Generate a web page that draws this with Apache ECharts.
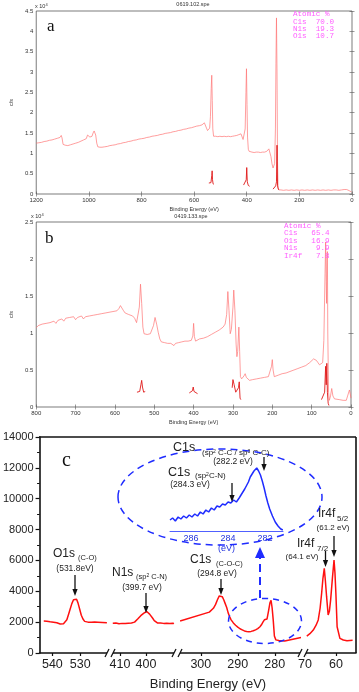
<!DOCTYPE html>
<html>
<head>
<meta charset="utf-8">
<script src="https://cdn.jsdelivr.net/npm/echarts@6/dist/echarts.min.js"></script>
<style>
html, body { margin: 0; padding: 0; background: #fff; }
#main { width: 359px; height: 692px; }
</style>
</head>
<body>
<div id="main"></div>
<script>
// ---- panel a : survey 0619.102.spe  [binding energy eV, counts x10^4]
var surveyA = [[1200,1.25],[1195,1.27],[1190,1.26],[1185,1.29],[1180,1.27],[1175,1.30],[1170,1.29],[1165,1.32],[1160,1.30],[1155,1.33],[1150,1.32],[1145,1.35],[1140,1.33],[1135,1.36],[1130,1.35],[1125,1.38],[1120,1.37],[1115,1.40],[1110,1.39],[1105,1.44],[1102,1.38],[1098,1.22],[1094,1.18],[1090,1.20],[1085,1.17],[1080,1.19],[1075,1.18],[1070,1.21],[1065,1.20],[1060,1.23],[1055,1.22],[1050,1.25],[1045,1.24],[1040,1.27],[1035,1.26],[1030,1.30],[1025,1.29],[1020,1.33],[1015,1.32],[1010,1.36],[1005,1.45],[1001,1.48],[996,1.40],[992,1.37],[988,1.42],[984,1.50],[980,1.55],[977,1.58],[974,1.45],[970,1.25],[966,1.16],[962,1.13],[958,1.15],[954,1.13],[950,1.15],[945,1.14],[940,1.16],[935,1.15],[930,1.17],[925,1.16],[920,1.19],[915,1.18],[910,1.20],[905,1.19],[900,1.21],[895,1.20],[890,1.23],[885,1.22],[880,1.24],[875,1.23],[870,1.26],[865,1.25],[860,1.27],[855,1.26],[850,1.29],[845,1.28],[840,1.30],[835,1.29],[830,1.32],[825,1.31],[820,1.33],[815,1.32],[810,1.35],[805,1.34],[800,1.36],[795,1.35],[790,1.37],[785,1.36],[780,1.39],[775,1.38],[770,1.40],[765,1.39],[760,1.42],[755,1.41],[750,1.43],[745,1.42],[740,1.44],[735,1.43],[730,1.46],[725,1.45],[720,1.47],[715,1.46],[710,1.49],[705,1.48],[700,1.50],[695,1.49],[690,1.51],[685,1.50],[680,1.53],[675,1.52],[670,1.54],[665,1.53],[660,1.56],[655,1.55],[650,1.57],[645,1.56],[640,1.59],[635,1.58],[630,1.60],[625,1.59],[620,1.62],[615,1.61],[610,1.63],[605,1.62],[600,1.65],[595,1.64],[590,1.67],[585,1.66],[580,1.68],[575,1.67],[570,1.70],[565,1.72],[561,1.75],[557,1.72],[553,1.62],[549,1.56],[545,1.54],[541,1.62],[538,1.90],[535,2.60],[533,2.92],[531,2.30],[529,1.60],[526,1.42],[522,1.40],[518,1.42],[514,1.39],[510,1.41],[506,1.40],[502,1.42],[498,1.39],[494,1.41],[490,1.40],[486,1.42],[482,1.40],[478,1.41],[474,1.39],[470,1.42],[466,1.40],[462,1.41],[458,1.39],[454,1.42],[450,1.41],[446,1.43],[442,1.42],[438,1.44],[434,1.43],[430,1.46],[426,1.45],[422,1.48],[418,1.44],[414,1.34],[410,1.32],[406,1.60],[403,2.50],[401,3.08],[399,2.20],[397,1.40],[394,1.10],[391,1.05],[388,1.03],[384,1.05],[380,1.03],[376,1.04],[372,1.02],[368,1.04],[364,1.03],[360,1.05],[356,1.03],[352,1.04],[348,1.02],[344,1.04],[340,1.03],[336,1.05],[332,1.03],[328,1.04],[324,1.05],[320,1.07],[316,1.11],[312,1.08],[308,0.92],[304,0.74],[300,0.64],[297,0.62],[294,0.75],[291,1.60],[289,3.20],[287,4.33],[285,3.00],[283,0.80],[281,0.16],[278,0.10],[274,0.09],[270,0.10],[260,0.09],[250,0.10],[240,0.09],[230,0.10],[220,0.09],[210,0.10],[200,0.09],[190,0.10],[180,0.09],[170,0.10],[160,0.09],[150,0.10],[140,0.09],[130,0.10],[120,0.09],[110,0.10],[100,0.09],[90,0.10],[80,0.09],[70,0.10],[60,0.10],[50,0.09],[40,0.10],[30,0.11],[25,0.12],[20,0.11],[15,0.10],[10,0.08],[5,0.06],[2,0.05]];
var hiresA_O = [[544,0.27],[540,0.26],[536,0.28],[533,0.45],[531.5,0.57],[530,0.35],[528,0.25],[525,0.24]];
var hiresA_N = [[412,0.22],[405,0.23],[402,0.35],[400,0.65],[398,0.30],[394,0.21],[389,0.19]];
var hiresA_C = [[300,0.12],[295,0.13],[290,0.20],[287,0.30],[285,1.20],[283,0.20],[280,0.12],[278,0.10]];
var atomicA = ['Atomic %', 'C1s  70.0', 'N1s  19.3', 'O1s  10.7'];

// ---- panel b : survey 0419.133.spe
var surveyB = [[800,1.07],[795,1.10],[790,1.08],[785,1.12],[780,1.10],[775,1.13],[770,1.11],[765,1.14],[760,1.12],[755,1.16],[750,1.13],[745,1.17],[740,1.15],[735,1.19],[730,1.16],[725,1.20],[720,1.18],[715,1.21],[710,1.19],[705,1.22],[700,1.18],[695,1.21],[690,1.20],[685,1.23],[680,1.19],[675,1.22],[670,1.20],[665,1.23],[660,1.21],[655,1.24],[650,1.22],[645,1.25],[640,1.23],[635,1.26],[630,1.24],[625,1.27],[620,1.25],[615,1.28],[610,1.26],[605,1.29],[600,1.27],[595,1.30],[590,1.33],[586,1.37],[582,1.35],[578,1.30],[574,1.27],[570,1.28],[565,1.25],[560,1.26],[555,1.23],[550,1.20],[545,1.14],[541,1.15],[538,1.35],[535,1.66],[532,1.40],[529,1.08],[526,0.99],[522,0.97],[518,0.98],[514,0.96],[510,0.99],[506,0.97],[502,1.10],[498,1.21],[494,1.12],[490,1.01],[486,0.92],[482,0.88],[478,0.86],[474,0.87],[470,0.85],[466,0.86],[462,0.84],[458,0.86],[454,0.85],[450,0.83],[446,0.86],[442,0.85],[438,0.87],[434,0.86],[430,0.88],[426,0.87],[422,0.89],[418,0.88],[414,0.89],[410,0.88],[406,0.90],[402,0.96],[400,1.13],[398,0.95],[395,0.89],[390,0.90],[385,0.92],[380,0.91],[375,0.93],[370,0.94],[365,0.95],[360,0.97],[355,0.98],[350,1.00],[345,1.01],[340,1.03],[335,1.04],[330,1.06],[325,1.08],[320,1.12],[316,1.25],[313,1.56],[310,1.30],[307,0.99],[304,1.05],[300,1.35],[298,1.58],[295,1.30],[292,0.85],[290,0.68],[288,0.75],[285,1.08],[283,0.75],[281,0.41],[278,0.38],[275,0.39],[272,0.42],[269,0.45],[266,0.40],[262,0.38],[258,0.36],[254,0.38],[250,0.37],[245,0.39],[240,0.38],[235,0.40],[230,0.39],[225,0.41],[220,0.40],[215,0.42],[210,0.41],[205,0.43],[202,0.55],[200,0.64],[198,0.50],[195,0.41],[190,0.42],[185,0.43],[180,0.44],[175,0.45],[170,0.44],[165,0.46],[160,0.47],[155,0.48],[150,0.49],[145,0.50],[140,0.51],[135,0.52],[130,0.53],[125,0.54],[120,0.55],[115,0.56],[110,0.58],[105,0.60],[100,0.62],[95,0.65],[92,0.67],[88,0.63],[84,0.60],[80,0.57],[76,0.56],[72,0.60],[69,0.90],[66,1.80],[64.5,2.23],[63,1.70],[62,1.40],[61,2.00],[60,2.10],[59,1.00],[57,0.20],[55,0.09],[52,0.15],[49,0.25],[46,0.15],[42,0.11],[38,0.10],[30,0.10],[20,0.09],[12,0.09],[8,0.10],[4,0.23],[2,0.18],[0,0.12]];
var hiresB_O = [[544,0.20],[540,0.19],[537,0.21],[534,0.30],[532,0.36],[530,0.27],[527,0.20],[523,0.21]];
var hiresB_N = [[411,0.19],[406,0.20],[403,0.22],[401,0.27],[399,0.21],[395,0.19],[390,0.18]];
var hiresB_C = [[302,0.26],[300,0.37],[297,0.30],[293,0.20],[289,0.22],[286,0.26],[284,0.34],[282,0.12],[280,0.10]];
var hiresB_Ir = [[75,0.10],[70,0.12],[67,0.20],[64.5,0.55],[63,0.30],[61.5,0.59],[60,0.20],[58,0.05],[56,0.02]];
var atomicB = ['Atomic %', 'C1s   65.4', 'O1s   16.9', 'N1s    9.9', 'Ir4f   7.8'];

// ---- panel c : high resolution regions, counts
var regionO1s = [[543.1,2070],[542.5,1990],[542,2060],[541.4,1980],[540.8,2020],[540.2,1950],[539.6,2000],[539,1900],[538.4,1960],[537.8,1850],[537.2,1880],[536.6,1800],[536,1900],[535.4,1950],[534.8,2150],[534.2,2500],[533.6,2850],[533,3200],[532.4,3450],[531.8,3560],[531.3,3480],[530.8,3250],[530.2,2850],[529.6,2450],[529,2200],[528.4,2050],[527.8,2090],[527.2,2000],[526.6,2060],[526,1990],[525.4,2080],[524.8,2010],[524.2,2060],[523.6,2000],[520.4,1960]];
var regionN1s = [[412.8,1930],[412.2,1870],[411.6,1940],[411,1880],[410.4,1900],[409.8,1850],[409.2,1920],[408.6,1870],[408,1910],[407.4,1860],[406.8,1930],[406.2,1890],[405.6,1950],[405,1920],[404.4,2000],[403.8,2080],[403.2,2200],[402.6,2320],[402,2420],[401.4,2500],[400.8,2580],[400.2,2650],[399.7,2690],[399.2,2600],[398.6,2520],[398,2400],[397.4,2250],[396.8,2100],[396.2,2000],[395.6,1950],[395,1900],[394.4,1940],[393.8,1880],[393.2,1920],[392.6,1870],[392,1930],[391.4,1880],[390.8,1920],[390.2,1890],[389.6,1930],[389.2,1900]];
var regionC1s = [[305.6,2070],[297.7,2650],[297.2,2700],[296.6,2900],[296,3150],[295.5,3450],[295,3700],[294.6,3780],[294.2,3650],[293.8,3450],[293.4,3200],[293,2950],[292.6,2600],[292.2,2350],[291.8,2150],[291.2,1950],[290.6,1800],[290,1680],[289.4,1570],[288.8,1500],[288.2,1430],[287.6,1400],[287,1380],[286.4,1400],[285.8,1440],[285.2,1500],[284.6,1580],[284,1700],[283.6,1830],[283.2,2000],[282.8,2150],[282.4,2080],[282.1,2200],[281.7,2700],[281.3,3250],[281,3420],[280.7,2900],[280.4,2100],[280.1,1100],[279.7,850],[279.3,790],[278.9,810],[278.5,770],[278.1,800],[277.7,760],[277.3,780],[276.8,740],[272.9,1000]];
var regionIr4f = [[69.4,1100],[68.4,1250],[67.3,1490],[66.4,1800],[65.7,2140],[65.1,2900],[64.6,3870],[64.2,4800],[63.75,5490],[63.4,4700],[63.0,3650],[62.5,2460],[62.1,2700],[61.7,3430],[61.1,4900],[60.6,6030],[60.3,5200],[60.0,3870],[59.6,1700],[58.7,950],[57.6,840],[56.4,800],[54.6,820]];
// inset: C1s zoom (arbitrary units)
var insetC1s = [[287.14,11],[287.0,13],[286.85,10],[286.7,14],[286.55,12],[286.4,15],[286.25,13],[286.1,16],[285.95,14],[285.8,17],[285.65,15],[285.5,19],[285.35,17],[285.2,21],[285.05,19],[284.9,23],[284.75,21],[284.6,25],[284.45,24],[284.3,27],[284.15,26],[284.0,29],[283.85,28],[283.7,31],[283.55,29],[283.4,33],[283.3,36],[283.2,38],[283.1,42],[283.0,44],[282.9,49],[282.8,54],[282.7,57],[282.6,60],[282.5,62],[282.45,63],[282.35,60],[282.25,56],[282.15,50],[282.05,43],[281.95,35],[281.85,28],[281.75,22],[281.6,15],[281.45,9],[281.3,5],[281.15,2],[281.04,1]];

// tick labels of the broken axis
var ticksO = [540, 530];
var ticksN = [410, 400];
var ticksC = [300, 290, 280];
var ticksIr = [70, 60];
var ticksInset = [286, 284, 282];

var SANS = 'Liberation Sans, Arial, sans-serif';
var MONO = 'Liberation Mono, DejaVu Sans Mono, monospace';
var SERIF = 'Liberation Serif, DejaVu Serif, serif';

var chart = echarts.init(document.getElementById('main'));

var plain = function (v) { return String(v); };

function surveyX(grid, max, step, pos, name) {
    return {
        gridIndex: grid, type: 'value', min: 0, max: max, interval: step, inverse: true, position: pos,
        axisLine: {show: false},
        axisTick: {inside: true, length: 2.5, lineStyle: {color: '#555', width: 0.6}},
        axisLabel: {show: pos === 'bottom', fontSize: 6, color: '#333', margin: 3, fontFamily: SANS, formatter: plain},
        splitLine: {show: false},
        name: name, nameLocation: 'middle', nameGap: 12,
        nameTextStyle: {fontSize: 5.5, color: '#333', fontFamily: SANS}
    };
}
function surveyY(grid, max, pos) {
    return {
        gridIndex: grid, type: 'value', min: 0, max: max, interval: 0.5, position: pos,
        axisLine: {show: false},
        axisTick: {inside: true, length: 2.5, lineStyle: {color: '#555', width: 0.6}},
        axisLabel: {show: pos === 'left', fontSize: 6, color: '#333', margin: 3, fontFamily: SANS, formatter: plain},
        splitLine: {show: false},
        name: pos === 'left' ? 'c/s' : '', nameLocation: 'middle', nameRotate: 90, nameGap: 13,
        nameTextStyle: {fontSize: 5.5, color: '#333', fontFamily: SANS}
    };
}
function segX(grid, lo, hi, ticks) {
    return {
        gridIndex: grid, type: 'value', min: lo, max: hi, inverse: true,
        axisLine: {lineStyle: {color: '#111', width: 1.6}},
        axisTick: {customValues: ticks, length: 3, lineStyle: {color: '#111', width: 1.2}},
        axisLabel: {customValues: ticks, fontSize: 12.5, color: '#222', margin: 5, fontFamily: SANS, formatter: plain},
        splitLine: {show: false}
    };
}
function segY(grid, visible) {
    return {
        gridIndex: grid, type: 'value', min: 0, max: 14000, interval: 2000, show: visible,
        axisLine: {show: true, lineStyle: {color: '#111', width: 1.6}},
        axisTick: {length: 4, lineStyle: {color: '#111', width: 1.2}},
        minorTick: {show: true, splitNumber: 2, length: 2.5, lineStyle: {color: '#111', width: 1}},
        axisLabel: {fontSize: 11, color: '#222', margin: 6, fontFamily: SANS, formatter: plain},
        splitLine: {show: false}
    };
}
function line(data, xi, yi, color, w) {
    return {type: 'line', data: data, xAxisIndex: xi, yAxisIndex: yi, symbol: 'none',
        lineStyle: {color: color, width: w}, silent: true, animation: false};
}

// annotation helpers
function T(x, y, text, size, o) {
    o = o || {};
    return {type: 'text', silent: true, z: 100, style: {
        x: x, y: y, text: text, fontSize: size, fontFamily: o.ff || SANS,
        fill: o.c || '#222', textAlign: o.a || 'left', textVerticalAlign: 'middle',
        rich: o.rich}};
}
var SUP = {s: {fontSize: 5, verticalAlign: 'top'}};
function arrow(x, y1, y2) {
    return [
        {type: 'line', silent: true, z: 100, shape: {x1: x, y1: y1, x2: x, y2: y2 - 5},
            style: {stroke: '#111', lineWidth: 1.3}},
        {type: 'polygon', silent: true, z: 100, shape: {points: [[x - 2.6, y2 - 7], [x + 2.6, y2 - 7], [x, y2]]},
            style: {fill: '#111'}}
    ];
}
function brk(x) {
    return [
        {type: 'rect', silent: true, z: 90, shape: {x: x - 3, y: 650, width: 6, height: 6}, style: {fill: '#fff'}},
        {type: 'line', silent: true, z: 100, shape: {x1: x - 5, y1: 657, x2: x - 1, y2: 649}, style: {stroke: '#111', lineWidth: 1.3}},
        {type: 'line', silent: true, z: 100, shape: {x1: x + 1, y1: 657, x2: x + 5, y2: 649}, style: {stroke: '#111', lineWidth: 1.3}}
    ];
}

var RED = '#ff1010';
var SURV = '#ff7474';
var HIRES = '#e01818';
var BLUE = '#1f2cff';

var graphics = [];
// panel a texts
graphics.push(T(35, 6, 'x 10{s|4}', 5.5, {c: '#333', rich: {s: {fontSize: 4, verticalAlign: 'top'}}}));
graphics.push(T(193, 4.5, '0619.102.spe', 5.5, {a: 'center', c: '#333'}));
graphics.push(T(47, 27, 'a', 17, {ff: SERIF, c: '#111'}));
atomicA.forEach(function (s, i) { graphics.push(T(293, 14.3 + i * 7.2, s, 7.6, {ff: MONO, c: '#ff5cff'})); });
// panel b texts
graphics.push(T(31, 216, 'x 10{s|4}', 5.5, {c: '#333', rich: {s: {fontSize: 4, verticalAlign: 'top'}}}));
graphics.push(T(191, 216, '0419.133.spe', 5.5, {a: 'center', c: '#333'}));
graphics.push(T(45, 239, 'b', 17, {ff: SERIF, c: '#111'}));
atomicB.forEach(function (s, i) { graphics.push(T(284, 225.5 + i * 7.6, s, 7.6, {ff: MONO, c: '#ff5cff'})); });
// panel c frame (top and right), label, axis title
graphics.push({type: 'line', silent: true, shape: {x1: 39, y1: 437, x2: 356, y2: 437}, style: {stroke: '#111', lineWidth: 1.6}});
graphics.push({type: 'line', silent: true, shape: {x1: 356, y1: 437, x2: 356, y2: 653}, style: {stroke: '#111', lineWidth: 1.6}});
graphics.push(T(62, 461, 'c', 20, {ff: SERIF, c: '#111'}));
graphics.push(T(208, 684, 'Binding Energy (eV)', 13, {a: 'center'}));
graphics = graphics.concat(brk(110), brk(177), brk(303));
// ellipses and dashed arrow
graphics.push({type: 'ellipse', silent: true, z: 50, shape: {cx: 220, cy: 497, rx: 102, ry: 48},
    style: {fill: 'none', stroke: BLUE, lineWidth: 1.5, lineDash: [7, 5]}});
graphics.push({type: 'ellipse', silent: true, z: 50, shape: {cx: 265, cy: 621, rx: 36.5, ry: 22.5},
    style: {fill: 'none', stroke: BLUE, lineWidth: 1.5, lineDash: [6, 5]}});
graphics.push({type: 'line', silent: true, z: 50, shape: {x1: 260, y1: 598, x2: 260, y2: 556},
    style: {stroke: BLUE, lineWidth: 2, lineDash: [8, 5]}});
graphics.push({type: 'polygon', silent: true, z: 50, shape: {points: [[255, 558], [265, 558], [260, 547]]}, style: {fill: BLUE}});
// peak labels, main
graphics.push(T(53, 554, 'O1s', 12));
graphics.push(T(78, 558, '(C-O)', 7.5));
graphics.push(T(75, 569, '(531.8eV)', 8.5, {a: 'center'}));
graphics = graphics.concat(arrow(75, 575, 596));
graphics.push(T(112, 573, 'N1s', 12));
graphics.push(T(136, 577, '(sp{s|2} C-N)', 7.5, {rich: SUP}));
graphics.push(T(142, 588, '(399.7 eV)', 8.5, {a: 'center'}));
graphics = graphics.concat(arrow(146, 593, 613));
graphics.push(T(190, 560, 'C1s', 12));
graphics.push(T(216, 564, '(C-O-C)', 7.5));
graphics.push(T(217, 574, '(294.8 eV)', 8.5, {a: 'center'}));
graphics = graphics.concat(arrow(221, 579, 595));
graphics.push(T(297, 544, 'Ir4f', 12));
graphics.push(T(317, 549, '7/2', 8));
graphics.push(T(302, 557, '(64.1 eV)', 8, {a: 'center'}));
graphics = graphics.concat(arrow(325.5, 551, 567));
graphics.push(T(318, 514, 'Ir4f', 12));
graphics.push(T(337, 519, '5/2', 8));
graphics.push(T(333, 528, '(61.2 eV)', 8, {a: 'center'}));
graphics = graphics.concat(arrow(334, 536, 557));
// peak labels, inset
graphics.push(T(173, 448, 'C1s', 12.5));
graphics.push(T(202, 453, '(sp{s|2} C-C / sp{s|3} C-C)', 8, {rich: SUP}));
graphics.push(T(233, 462, '(282.2 eV)', 8.5, {a: 'center'}));
graphics = graphics.concat(arrow(264, 457, 471));
graphics.push(T(168, 473, 'C1s', 12.5));
graphics.push(T(195, 476, '(sp{s|2}C-N)', 8, {rich: SUP}));
graphics.push(T(190, 485, '(284.3 eV)', 8.5, {a: 'center'}));
graphics = graphics.concat(arrow(232, 483, 502));

var option = {
    animation: false,
    backgroundColor: '#fff',
    grid: [
        {left: 35, top: 11, width: 317, height: 183, show: true, borderColor: '#444', borderWidth: 0.7},
        {left: 31, top: 222, width: 320, height: 185, show: true, borderColor: '#444', borderWidth: 0.7},
        {left: 39, top: 437, width: 69, height: 216},
        {left: 112, top: 437, width: 63, height: 216},
        {left: 179, top: 437, width: 122, height: 216},
        {left: 304, top: 437, width: 52, height: 216},
        {left: 170, top: 460, width: 113, height: 71}
    ],
    xAxis: [
        surveyX(0, 1200, 200, 'bottom', 'Binding Energy (eV)'),
        surveyX(0, 1200, 200, 'top', ''),
        surveyX(1, 800, 100, 'bottom', 'Binding Energy (eV)'),
        surveyX(1, 800, 100, 'top', ''),
        segX(2, 520, 544.6, ticksO),
        segX(3, 388.8, 413.1, ticksN),
        segX(4, 272.9, 305.9, ticksC),
        segX(5, 53.5, 70.3, ticksIr),
        {
            gridIndex: 6, type: 'value', min: 281.03, max: 287.14, inverse: true,
            axisLine: {lineStyle: {color: '#5060ff', width: 1}},
            axisTick: {show: false},
            axisLabel: {customValues: ticksInset, fontSize: 9, color: '#2233dd', margin: 3, fontFamily: SANS, formatter: plain},
            splitLine: {show: false},
            name: '(eV)', nameLocation: 'middle', nameGap: 13,
            nameTextStyle: {fontSize: 9, color: '#2233dd', fontFamily: SANS}
        }
    ],
    yAxis: [
        surveyY(0, 4.5, 'left'),
        surveyY(0, 4.5, 'right'),
        surveyY(1, 2.5, 'left'),
        surveyY(1, 2.5, 'right'),
        segY(2, true),
        segY(3, false),
        segY(4, false),
        segY(5, false),
        {gridIndex: 6, type: 'value', min: 0, max: 71, show: false}
    ],
    series: [
        line(surveyA, 0, 0, SURV, 0.7),
        line(hiresA_O, 0, 0, HIRES, 0.9),
        line(hiresA_N, 0, 0, HIRES, 0.9),
        line(hiresA_C, 0, 0, HIRES, 0.9),
        line(surveyB, 2, 2, SURV, 0.7),
        line(hiresB_O, 2, 2, HIRES, 0.9),
        line(hiresB_N, 2, 2, HIRES, 0.9),
        line(hiresB_C, 2, 2, HIRES, 0.9),
        line(hiresB_Ir, 2, 2, HIRES, 0.9),
        line(regionO1s, 4, 4, RED, 1.5),
        line(regionN1s, 5, 5, RED, 1.5),
        line(regionC1s, 6, 6, RED, 1.5),
        line(regionIr4f, 7, 7, RED, 1.5),
        line(insetC1s, 8, 8, BLUE, 1.5)
    ],
    graphic: {elements: graphics}
};
chart.setOption(option);
</script>
</body>
</html>
